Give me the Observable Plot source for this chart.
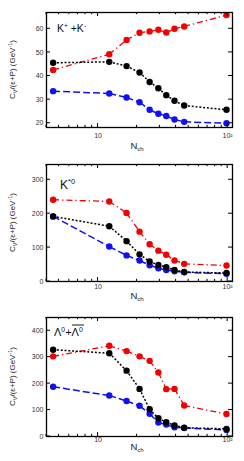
<!DOCTYPE html>
<html><head><meta charset="utf-8">
<script src="https://cdn.jsdelivr.net/npm/d3@7"></script>
<script src="https://cdn.jsdelivr.net/npm/@observablehq/plot@0.6"></script>
<style>body{margin:0;background:#fff;} #c svg{display:block;}</style>
</head><body><div id="c"></div>
<script>
const nch = [4.5, 12.2, 16.6, 20.9, 25.0, 29.2, 33.6, 38.9, 46.2, 98];

const kpmRed   = [42.6, 49.2, 55.3, 58.3, 58.9, 59.6, 58.4, 60.0, 61.0, 65.8];
const kpmBlack = [45.6, 46.0, 44.2, 41.5, 37.5, 34.8, 31.9, 29.5, 27.5, 25.7];
const kpmBlue  = [33.6, 32.6, 30.9, 28.9, 25.7, 24.0, 23.1, 21.6, 20.6, 20.0];

const kstRed   = [241, 236, 202, 147, 110, 91, 79, 62, 52, 47];
const kstBlack = [192, 163, 119, 80, 59, 49, 42, 34, 28, 25];
const kstBlue  = [192, 103, 77, 62, 48, 39, 34, 30, 27, 23];

const lamRed   = [303, 343, 323, 303, 286, 242, 179, 180, 117, 85];
const lamBlack = [328, 315, 249, 180, 103, 69, 54, 42, 33, 29];
const lamBlue  = [188, 155, 134, 116, 86, 53, 45, 35, 32, 25];

const xTickLabels = [10, 100];
const xMinorTicks = [4,5,6,7,8,9,20,30,40,50,60,70,80,90];
const yTicks1 = [20, 30, 40, 50, 60];
const yTicks2 = [0, 100, 200, 300];
const yTicks3 = [0, 100, 200, 300, 400];

const FONT = "'Liberation Sans', Arial, Helvetica, sans-serif";

function segs(ys) {
  return nch.slice(1).map((v, i) => ({x1: nch[i], y1: ys[i], x2: v, y2: ys[i + 1]}));
}
function pts(ys) { return nch.map((v, i) => ({x: v, y: ys[i]})); }

function decor(yticks, title, yLabDx, nchDy) {
  return (index, scales, values, dims) => {
    const x = scales.x, y = scales.y;
    const {width, height, marginLeft: ml, marginRight: mr, marginTop: mt, marginBottom: mb} = dims;
    const X0 = ml, X1 = width - mr, Y0 = mt, Y1 = height - mb;
    const g = d3.create("svg:g").attr("stroke", "black").attr("stroke-width", 1);
    for (const t of xTickLabels) {
      const px = x(t);
      g.append("line").attr("x1", px).attr("x2", px).attr("y1", Y1).attr("y2", Y1 - 4);
      g.append("line").attr("x1", px).attr("x2", px).attr("y1", Y0).attr("y2", Y0 + 4);
    }
    for (const t of xMinorTicks) {
      const px = x(t);
      g.append("line").attr("x1", px).attr("x2", px).attr("y1", Y1).attr("y2", Y1 - 2.2);
      g.append("line").attr("x1", px).attr("x2", px).attr("y1", Y0).attr("y2", Y0 + 2.2);
    }
    for (const t of yticks) {
      const py = y(t);
      g.append("line").attr("x1", X0).attr("x2", X0 + 4).attr("y1", py).attr("y2", py);
      g.append("line").attr("x1", X1).attr("x2", X1 - 4).attr("y1", py).attr("y2", py);
    }
    // y label
    const cy = (Y0 + Y1) / 2;
    const yl = g.append("text").attr("stroke", "none").attr("fill", "#222")
      .attr("font-family", FONT).attr("font-size", 8)
      .attr("text-anchor", "middle")
      .attr("transform", `translate(${yLabDx},${cy}) rotate(-90)`);
    yl.append("tspan").text("C");
    yl.append("tspan").attr("font-size", 5.5).attr("dy", 1.5).text("V");
    yl.append("tspan").attr("dy", -1.5).text("/(ε+P) (GeV");
    yl.append("tspan").attr("font-size", 5.5).attr("dy", -3).text("-1");
    yl.append("tspan").attr("dy", 3).text(")");
    // N_ch label
    const nl = g.append("text").attr("stroke", "none").attr("fill", "#222")
      .attr("font-family", FONT).attr("font-size", 9.5)
      .attr("text-anchor", "middle")
      .attr("x", (X0 + X1) / 2 - 2).attr("y", Y1 + nchDy);
    nl.append("tspan").text("N");
    nl.append("tspan").attr("font-size", 6).attr("dy", 2).text("ch");
    // panel title
    const tl = g.append("text").attr("stroke", "none").attr("fill", "#111")
      .attr("font-family", FONT).attr("font-size", title.size)
      .attr("text-anchor", "start")
      .attr("x", X0 + title.dx).attr("y", Y0 + title.dy);
    for (const part of title.parts) {
      const ts = tl.append("tspan").text(part.t);
      if (part.sup) ts.attr("font-size", title.size * 0.62).attr("dy", part.dy);
      else if (part.dy) ts.attr("dy", part.dy);
    }
    if (title.bar) {
      g.append("line").attr("x1", X0 + title.bar[0]).attr("x2", X0 + title.bar[1])
        .attr("y1", Y0 + title.bar[2]).attr("y2", Y0 + title.bar[2]).attr("stroke-width", 0.9);
    }
    return g.node();
  };
}

function panel(cfg) {
  const {red, black, blue, yDomain, yticks, height, mt, mb, title, xPad, nchDy} = cfg;
  return Plot.plot({
    width: 244, height,
    marginLeft: 46, marginRight: 12, marginTop: mt, marginBottom: mb,
    style: {fontFamily: FONT, background: "white", overflow: "visible"},
    x: {type: "log", domain: [4, 109]},
    y: {domain: yDomain},
    marks: [
      Plot.axisY({ticks: yticks, tickSize: 0, tickPadding: 3, fontSize: 7, label: null, fill: "#333"}),
      Plot.axisX({ticks: xTickLabels, tickSize: 0, tickPadding: xPad, fontSize: 7, label: null, fill: "#333",
        tickFormat: d => d === 100 ? "10²" : "10"}),
      Plot.link(segs(red), {x1: "x1", y1: "y1", x2: "x2", y2: "y2", stroke: "#f00000", strokeWidth: 1.3, strokeDasharray: "6,3,1.3,3"}),
      Plot.link(segs(blue), {x1: "x1", y1: "y1", x2: "x2", y2: "y2", stroke: "#1010f0", strokeWidth: 1.5, strokeDasharray: "7,3"}),
      Plot.link(segs(black), {x1: "x1", y1: "y1", x2: "x2", y2: "y2", stroke: "black", strokeWidth: 1.5, strokeDasharray: "2,1.8"}),
      Plot.dot(pts(red), {x: "x", y: "y", r: 3.2, fill: "#f00000"}),
      Plot.dot(pts(blue), {x: "x", y: "y", r: 3.2, fill: "#1010f0"}),
      Plot.dot(pts(black), {x: "x", y: "y", r: 3.2, fill: "black"}),
      Plot.frame({stroke: "black", strokeWidth: 1.3}),
      decor(yticks, title, 15, nchDy)
    ]
  });
}

const c = document.getElementById("c");
c.append(panel({
  red: kpmRed, black: kpmBlack, blue: kpmBlue, yDomain: [18.2, 66.9], yticks: yTicks1,
  height: 150, mt: 12, mb: 23, xPad: 6, nchDy: 22,
  title: {size: 10.5, dx: 11, dy: 20, parts: [{t: "K"}, {t: "+", sup: true, dy: -4}, {t: " +K", dy: 4}, {t: "-", sup: true, dy: -4}]}
}));
c.append(panel({
  red: kstRed, black: kstBlack, blue: kstBlue, yDomain: [0, 345], yticks: yTicks2,
  height: 151, mt: 14, mb: 20, xPad: 2.5, nchDy: 18,
  title: {size: 12, dx: 14, dy: 25, parts: [{t: "K"}, {t: "*0", sup: true, dy: -5}]}
}));
c.append(panel({
  red: lamRed, black: lamBlack, blue: lamBlue, yDomain: [0, 450], yticks: yTicks3,
  height: 160, mt: 16, mb: 25, xPad: 1, nchDy: 14,
  title: {size: 11, dx: 8, dy: 19, bar: [26, 38, 8], parts: [{t: "Λ"}, {t: "0", sup: true, dy: -4.5}, {t: "+Λ", dy: 4.5}, {t: "0", sup: true, dy: -4.5}]}
}));
</script></body></html>
